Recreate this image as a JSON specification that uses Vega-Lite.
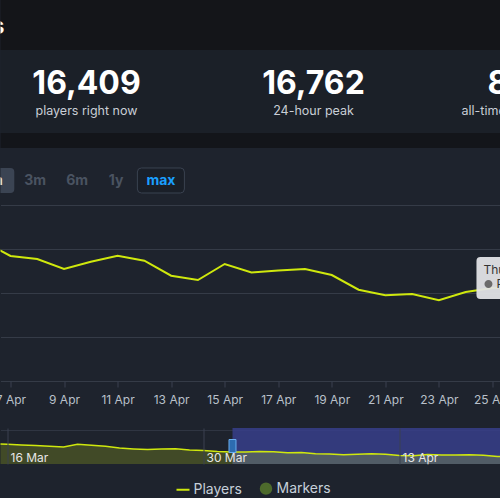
{
  "$schema": "https://vega.github.io/schema/vega-lite/v6.json",
  "background": "#1e232d",
  "padding": {"left": -5.5, "right": -8, "top": 0, "bottom": 0},
  "spacing": 0,
  "bounds": "flush",
  "config": {
    "font": "Inter",
    "view": {"stroke": null},
    "axis": {"labelFont": "Inter"},
    "legend": {"labelFont": "Inter"}
  },
  "datasets": {
    "players": [
      {"date": "2024-03-15", "players": 56500},
      {"date": "2024-03-16", "players": 55000},
      {"date": "2024-03-17", "players": 53000},
      {"date": "2024-03-18", "players": 51500},
      {"date": "2024-03-19", "players": 49500},
      {"date": "2024-03-20", "players": 47300},
      {"date": "2024-03-21", "players": 55000},
      {"date": "2024-03-22", "players": 52000},
      {"date": "2024-03-23", "players": 49500},
      {"date": "2024-03-24", "players": 44200},
      {"date": "2024-03-25", "players": 42000},
      {"date": "2024-03-26", "players": 40300},
      {"date": "2024-03-27", "players": 41500},
      {"date": "2024-03-28", "players": 42500},
      {"date": "2024-03-29", "players": 39000},
      {"date": "2024-03-30", "players": 37500},
      {"date": "2024-03-31", "players": 34500},
      {"date": "2024-04-01", "players": 33000},
      {"date": "2024-04-02", "players": 33500},
      {"date": "2024-04-03", "players": 34600},
      {"date": "2024-04-04", "players": 34000},
      {"date": "2024-04-05", "players": 31500},
      {"date": "2024-04-06", "players": 31660},
      {"date": "2024-04-07", "players": 28410},
      {"date": "2024-04-08", "players": 27730},
      {"date": "2024-04-09", "players": 25450},
      {"date": "2024-04-10", "players": 27110},
      {"date": "2024-04-11", "players": 28480},
      {"date": "2024-04-12", "players": 27340},
      {"date": "2024-04-13", "players": 23930},
      {"date": "2024-04-14", "players": 22950},
      {"date": "2024-04-15", "players": 26590},
      {"date": "2024-04-16", "players": 24660},
      {"date": "2024-04-17", "players": 25110},
      {"date": "2024-04-18", "players": 25450},
      {"date": "2024-04-19", "players": 24090},
      {"date": "2024-04-20", "players": 20750},
      {"date": "2024-04-21", "players": 19480},
      {"date": "2024-04-22", "players": 19770},
      {"date": "2024-04-23", "players": 18340},
      {"date": "2024-04-24", "players": 20230},
      {"date": "2024-04-25", "players": 21140},
      {"date": "2024-04-26", "players": 21360}
    ],
    "stats": [
      {"stat": "players right now", "value": "16,409"},
      {"stat": "24-hour peak", "value": "16,762"},
      {"stat": "all-time peak", "value": "8"}
    ],
    "ranges": [
      {"range": "1m"}, {"range": "3m"}, {"range": "6m"}, {"range": "1y"}, {"range": "max"}
    ],
    "selection": [
      {"from": "2024-04-01T01:43:00Z", "to": "2024-04-26T00:00:00Z"}
    ]
  },
  "vconcat": [
    {
      "width": 500, "height": 50,
      "view": {"fill": "#141519", "stroke": null},
      "data": {"values": [{"title": "s"}]},
      "mark": {"type": "text", "align": "right", "baseline": "middle", "fontSize": 24, "fontWeight": "bold", "color": "#ffffff", "clip": true},
      "encoding": {"text": {"field": "title"}, "x": {"value": 4}, "y": {"value": 27}}
    },
    {
      "width": 500, "height": 83,
      "view": {"fill": "#1b2028", "stroke": null},
      "data": {"name": "stats"},
      "encoding": {
        "x": {"field": "stat", "type": "nominal", "axis": null,
              "scale": {"type": "band", "domain": ["players right now", "24-hour peak", "all-time peak"], "range": [-27.5, 653.5], "paddingInner": 0, "paddingOuter": 0}}
      },
      "layer": [
        {"transform": [{"filter": "datum.stat !== 'all-time peak'"}],
         "mark": {"type": "text", "align": "center", "baseline": "middle", "dy": -8, "fontSize": 32, "fontWeight": "bold", "color": "#ffffff", "clip": true},
         "encoding": {"text": {"field": "value"}}},
        {"transform": [{"filter": "datum.stat !== 'all-time peak'"}],
         "mark": {"type": "text", "align": "center", "baseline": "middle", "dy": 19, "fontSize": 12.5, "color": "#c9ced6", "clip": true},
         "encoding": {"text": {"field": "stat"}}},
        {"transform": [{"filter": "datum.stat === 'all-time peak'"}],
         "mark": {"type": "text", "align": "left", "baseline": "middle", "dx": -53, "dy": -8, "fontSize": 32, "fontWeight": "bold", "color": "#ffffff", "clip": true},
         "encoding": {"text": {"field": "value"}}},
        {"transform": [{"filter": "datum.stat === 'all-time peak'"}],
         "mark": {"type": "text", "align": "left", "baseline": "middle", "dx": -79, "dy": 19, "fontSize": 12.5, "color": "#c9ced6", "clip": true},
         "encoding": {"text": {"field": "stat"}}}
      ]
    },
    {
      "width": 500, "height": 15,
      "view": {"fill": "#13151a", "stroke": null},
      "data": {"values": [{}]},
      "mark": {"type": "text", "text": ""},
      "encoding": {}
    },
    {
      "width": 500, "height": 57,
      "data": {"name": "ranges"},
      "encoding": {
        "x": {"field": "range", "type": "nominal", "axis": null,
              "scale": {"type": "band", "domain": ["1m", "3m", "6m", "1y", "max"], "range": [-28.15, 181.35], "paddingInner": 0, "paddingOuter": 0}}
      },
      "layer": [
        {"transform": [{"filter": "datum.range === '1m'"}],
         "mark": {"type": "point", "filled": true, "opacity": 1, "color": "#3b4453", "size": 1764, "clip": true,
                  "shape": "M-0.81,-0.405H0.81Q1,-0.405 1,-0.215V0.595Q1,0.785 0.81,0.785H-0.81Q-1,0.785 -1,0.595V-0.215Q-1,-0.405 -0.81,-0.405Z"}},
        {"transform": [{"filter": "datum.range === 'max'"}],
         "mark": {"type": "point", "filled": true, "opacity": 1, "fill": "#1a1f28", "stroke": "#3a4250", "strokeWidth": 1, "size": 2209, "clip": true,
                  "shape": "M-0.83,-0.362H0.83Q1,-0.362 1,-0.192V0.532Q1,0.702 0.83,0.702H-0.83Q-1,0.702 -1,0.532V-0.192Q-1,-0.362 -0.83,-0.362Z"}},
        {"transform": [{"filter": "datum.range === '1m'"}],
         "mark": {"type": "text", "align": "center", "baseline": "middle", "dy": 4, "fontSize": 14, "fontWeight": "bold", "color": "#e6eaef", "clip": true},
         "encoding": {"text": {"field": "range"}}},
        {"transform": [{"filter": "datum.range === '3m' || datum.range === '6m'"}],
         "mark": {"type": "text", "align": "center", "baseline": "middle", "dy": 4, "fontSize": 14, "fontWeight": "bold", "color": "#4a5361", "clip": true},
         "encoding": {"text": {"field": "range"}}},
        {"transform": [{"filter": "datum.range === '1y'"}],
         "mark": {"type": "text", "align": "center", "baseline": "middle", "dx": -3, "dy": 4, "fontSize": 14, "fontWeight": "bold", "color": "#4a5361", "clip": true},
         "encoding": {"text": {"field": "range"}}},
        {"transform": [{"filter": "datum.range === 'max'"}],
         "mark": {"type": "text", "align": "center", "baseline": "middle", "dy": 4, "fontSize": 14, "fontWeight": "bold", "color": "#1a9fff", "clip": true},
         "encoding": {"text": {"field": "range"}}}
      ]
    },
    {
      "spacing": 47,
      "bounds": "flush",
      "vconcat": [
        {
          "width": 500, "height": 176,
          "data": {"name": "players"},
          "encoding": {
            "x": {"field": "date", "type": "temporal",
                  "scale": {"type": "utc", "domain": [{"year": 2024, "month": 4, "date": 6, "hours": 15, "minutes": 3, "utc": true}, {"year": 2024, "month": 4, "date": 25, "hours": 7, "minutes": 12, "utc": true}]},
                  "axis": {"title": null, "values": [
                    {"year": 2024, "month": 4, "date": 7, "utc": true},
                    {"year": 2024, "month": 4, "date": 9, "utc": true},
                    {"year": 2024, "month": 4, "date": 11, "utc": true},
                    {"year": 2024, "month": 4, "date": 13, "utc": true},
                    {"year": 2024, "month": 4, "date": 15, "utc": true},
                    {"year": 2024, "month": 4, "date": 17, "utc": true},
                    {"year": 2024, "month": 4, "date": 19, "utc": true},
                    {"year": 2024, "month": 4, "date": 21, "utc": true},
                    {"year": 2024, "month": 4, "date": 23, "utc": true},
                    {"year": 2024, "month": 4, "date": 25, "utc": true}],
                    "labelExpr": "utcFormat(datum.value, '%-d %b')", "labelColor": "#b9c0ca", "labelFontSize": 12,
                    "tickColor": "#3a4150", "tickSize": 6, "domain": false, "grid": false, "labelPadding": 7, "labelFlush": false}},
            "y": {"field": "players", "type": "quantitative",
                  "scale": {"domain": [0, 40000]},
                  "axis": {"title": null, "values": [0, 10000, 20000, 30000, 40000], "labels": false, "ticks": false, "domain": false, "grid": true, "gridColor": "#353b47"}}
          },
          "layer": [
            {"mark": {"type": "line", "strokeWidth": 2, "clip": true},
             "encoding": {
               "color": {"datum": "Players", "type": "nominal",
                         "scale": {"domain": ["Players", "Markers"], "range": ["#cfe80d", "#4d6a2c"]},
                         "legend": {"orient": "none", "legendX": 175, "legendY": 481, "direction": "horizontal", "title": null,
                                    "symbolType": "stroke", "symbolSize": 169, "symbolStrokeWidth": 2, "labelFontSize": 14,
                                    "labelColor": "#c6d0da", "labelOffset": 3, "columnPadding": 14, "padding": 0,
                                    "encode": {"symbols": {"update": {
                                      "shape": {"signal": "datum.value === 'Markers' ? 'circle' : 'stroke'"},
                                      "fill": {"signal": "datum.value === 'Markers' ? '#4d6a2c' : 'transparent'"},
                                      "size": {"signal": "datum.value === 'Markers' ? 110 : 169"}}}}}}}},
            {"transform": [{"filter": "time(datum.date) === utc(2024, 3, 25)"}],
             "mark": {"type": "point", "filled": true, "opacity": 0.95, "color": "#e1e3e6", "size": 40000, "clip": true,
                      "shape": "M-0.12,-0.31H1.5V0.11H-0.12Q-0.16,0.11 -0.16,0.07V-0.27Q-0.16,-0.31 -0.12,-0.31Z"}},
            {"transform": [{"filter": "time(datum.date) === utc(2024, 3, 25)"}],
             "mark": {"type": "text", "text": "Thursday, 25 April 2024", "align": "left", "baseline": "middle", "dx": -9, "dy": -18, "fontSize": 12, "color": "#333333", "clip": true}},
            {"transform": [{"filter": "time(datum.date) === utc(2024, 3, 25)"}],
             "mark": {"type": "point", "filled": true, "opacity": 1, "color": "#6b6b6b", "size": 10000, "clip": true,
                      "shape": "M-0.16,-0.08A0.08,0.08 0 1,0 0,-0.08A0.08,0.08 0 1,0 -0.16,-0.08Z"}},
            {"transform": [{"filter": "time(datum.date) === utc(2024, 3, 25)"}],
             "mark": {"type": "text", "text": "Players", "align": "left", "baseline": "middle", "dx": 4, "dy": -4, "fontSize": 12, "color": "#333333", "clip": true}}
          ]
        },
        {
          "width": 500, "height": 36,
          "encoding": {
            "x": {"type": "temporal",
                  "scale": {"type": "utc", "domain": [{"year": 2024, "month": 3, "date": 15, "hours": 12, "utc": true}, {"year": 2024, "month": 4, "date": 20, "hours": 5, "minutes": 9, "utc": true}]}}
          },
          "layer": [
            {"data": {"name": "selection"},
             "mark": {"type": "rect", "color": "#373e8b", "opacity": 0.85, "clip": true},
             "encoding": {
               "x": {"field": "from", "type": "temporal",
                     "axis": {"title": null, "values": [
                       {"year": 2024, "month": 3, "date": 16, "utc": true},
                       {"year": 2024, "month": 3, "date": 30, "utc": true},
                       {"year": 2024, "month": 4, "date": 13, "utc": true}],
                       "labelExpr": "utcFormat(datum.value, '%-d %b')", "grid": true, "gridColor": "#3a4050", "ticks": false, "domain": false,
                       "labelAlign": "left", "labelBaseline": "alphabetic", "labelPadding": -3, "labelOffset": 2.5,
                       "labelColor": "#e6e6e6", "labelFontSize": 12, "labelFlush": false, "zindex": 1,
                       "encode": {"labels": {"update": {"stroke": {"value": "#000000"}, "strokeWidth": {"value": 0.6}}}}}},
               "x2": {"field": "to"}}},
            {"data": {"name": "players"},
             "mark": {"type": "area", "color": "#cfe80d", "opacity": 0.2, "clip": true},
             "encoding": {
               "x": {"field": "date", "type": "temporal"},
               "y": {"field": "players", "type": "quantitative", "scale": {"domain": [0, 95000]},
                     "axis": {"title": null, "values": [95000], "labels": false, "ticks": false, "domain": false, "grid": true, "gridColor": "#2f3542"}}}},
            {"data": {"name": "players"},
             "mark": {"type": "line", "color": "#cfe80d", "strokeWidth": 1.5, "clip": true},
             "encoding": {
               "x": {"field": "date", "type": "temporal"},
               "y": {"field": "players", "type": "quantitative"}}},
            {"data": {"name": "selection"},
             "mark": {"type": "tick", "orient": "vertical", "thickness": 7, "size": 13, "color": "#2d6cb0", "stroke": "#6aaef0", "strokeWidth": 1, "opacity": 1},
             "encoding": {"x": {"field": "from", "type": "temporal"}}}
          ]
        }
      ]
    }
  ]
}
